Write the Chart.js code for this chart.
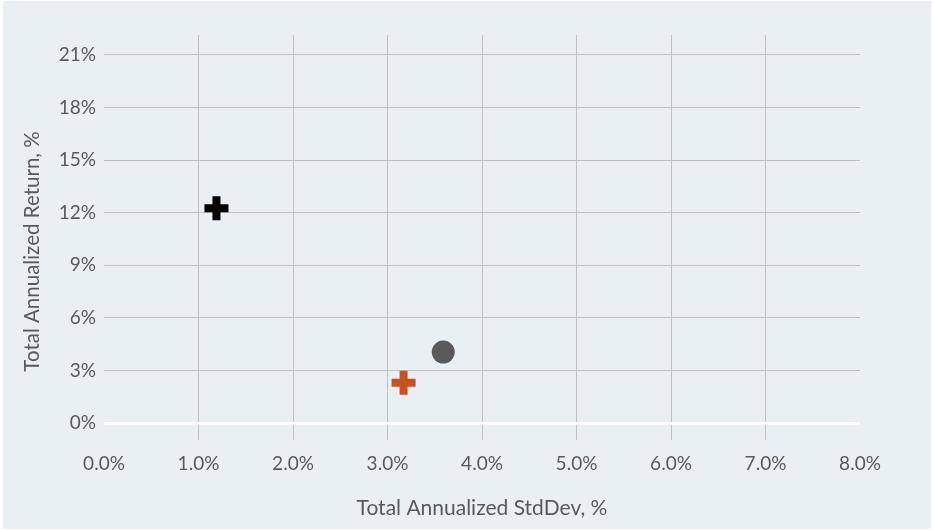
<!DOCTYPE html>
<html>
<head>
<meta charset="utf-8">
<script src="https://cdn.jsdelivr.net/npm/chart.js@4/dist/chart.umd.min.js"></script>
<style>
  html, body { margin: 0; padding: 0; background: #ffffff; }
  #wrap { width: 934px; height: 531px; position: relative; }
</style>
</head>
<body>
<div id="wrap"><canvas id="c" width="934" height="531"></canvas></div>
<script>
// Data (percent units)
const seriesNames = ['Series A', 'Series B', 'Series C'];
const stdDevValues = [1.19, 3.17, 3.59];   // x: Total Annualized StdDev, %
const returnValues = [12.25, 2.3, 4.05];   // y: Total Annualized Return, %
const seriesColors = ['#000000', '#c9511f', '#595959'];
const seriesShapes = ['cross', 'cross', 'circle'];
const xTickLabels = ['0.0%', '1.0%', '2.0%', '3.0%', '4.0%', '5.0%', '6.0%', '7.0%', '8.0%'];
const yTickLabels = ['0%', '3%', '6%', '9%', '12%', '15%', '18%', '21%'];
const xTitle = 'Total Annualized StdDev, %';
const yTitle = 'Total Annualized Return, %';

const textColor = '#595959';
const fontFamily = "Lato, sans-serif";
const tickFontSize = 19;

const bgPlugin = {
  id: 'bg',
  beforeDraw(chart) {
    const ctx = chart.ctx;
    ctx.save();
    ctx.fillStyle = '#ffffff';
    ctx.fillRect(0, 0, chart.width, chart.height);
    ctx.fillStyle = '#e8f0f3';
    ctx.fillRect(3, 1, 928, 528);
    ctx.restore();
  }
};

// Vertical axis title (placed like the reference, slightly below the plot centre)
const yTitlePlugin = {
  id: 'yTitle',
  afterDraw(chart) {
    const ctx = chart.ctx;
    const area = chart.chartArea;
    ctx.save();
    ctx.translate(38.5, (area.top + area.bottom) / 2 + 14);
    ctx.rotate(-Math.PI / 2);
    ctx.font = "20.5px " + fontFamily;
    ctx.fillStyle = textColor;
    ctx.textAlign = 'center';
    ctx.textBaseline = 'alphabetic';
    ctx.fillText(yTitle, 0, 0);
    ctx.restore();
  }
};

const datasets = seriesNames.map((name, i) => ({
  label: name,
  data: [{ x: stdDevValues[i], y: returnValues[i] }],
  pointStyle: seriesShapes[i],
  pointRadius: seriesShapes[i] === 'cross' ? 12 : 11.5,
  pointBorderWidth: seriesShapes[i] === 'cross' ? 8 : 0,
  pointBorderColor: seriesColors[i],
  pointBackgroundColor: seriesColors[i],
  pointHoverRadius: 12
}));

new Chart(document.getElementById('c'), {
  type: 'scatter',
  data: { datasets },
  plugins: [bgPlugin, yTitlePlugin],
  options: {
    responsive: false,
    animation: false,
    devicePixelRatio: 1,
    layout: { padding: { top: 35, right: 74, bottom: 0, left: 0 } },
    plugins: { legend: { display: false }, tooltip: { enabled: false } },
    scales: {
      x: {
        type: 'linear',
        min: 0, max: 8,
        afterFit(s) { s.height = 91; },
        border: { display: false },
        grid: {
          drawTicks: false,
          color: (c) => (c.tick && (c.tick.value === 0 || c.tick.value === 8)) ? 'rgba(0,0,0,0)' : '#c0c0c0',
          lineWidth: 1
        },
        ticks: {
          stepSize: 1,
          padding: 12,
          color: textColor,
          font: { family: fontFamily, size: tickFontSize },
          callback: (v, i) => xTickLabels[i] !== undefined ? xTickLabels[i] : ''
        },
        title: {
          display: true,
          text: xTitle,
          color: textColor,
          font: { family: fontFamily, size: 21 },
          padding: { top: 0, bottom: 10 }
        }
      },
      y: {
        type: 'linear',
        min: -0.97, max: 22.14,
        afterFit(s) { s.width = 104; },
        border: { display: false },
        grid: {
          drawTicks: false,
          color: (c) => (c.tick && c.tick.value === 0) ? '#ffffff' : '#c0c0c0',
          lineWidth: (c) => (c.tick && c.tick.value === 0) ? 3 : 1
        },
        ticks: {
          stepSize: 3,
          includeBounds: false,
          padding: 8,
          color: textColor,
          font: { family: fontFamily, size: tickFontSize },
          callback: (v) => {
            const idx = Math.round(v / 3);
            return yTickLabels[idx] !== undefined ? yTickLabels[idx] : '';
          }
        },
        title: { display: false }
      }
    }
  }
});
</script>
</body>
</html>
